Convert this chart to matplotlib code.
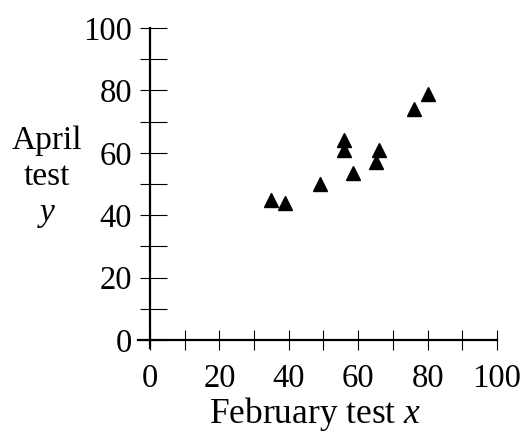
import matplotlib
matplotlib.use("Agg")
import matplotlib.pyplot as plt
from matplotlib.ticker import MultipleLocator, FuncFormatter

# scores
february = [35, 39, 49, 56, 56, 58.5, 65, 66, 76, 80]
april = [45, 44, 50, 64, 61, 53.5, 57, 61, 74, 79]

plt.rcParams['font.family'] = 'Liberation Serif'
plt.rcParams['mathtext.fontset'] = 'custom'
plt.rcParams['mathtext.rm'] = 'Liberation Serif'
plt.rcParams['mathtext.it'] = 'Liberation Serif:italic'

fig = plt.figure(figsize=(5.27, 4.34), dpi=100)
ax = fig.add_axes([0.2846, 0.2166, 0.6584, 0.7189])

ax.plot(february, april, linestyle='none', marker='^', markersize=9.5,
        color='black', clip_on=False)

ax.set_xlim(0, 100)
ax.set_ylim(0, 100)

for side in ['top', 'right']:
    ax.spines[side].set_visible(False)
ax.spines['left'].set_linewidth(1.6)
ax.spines['bottom'].set_linewidth(1.6)
ax.spines['left'].set_bounds(-2.5, 100)
ax.spines['bottom'].set_bounds(-3.5, 100)

def every_20(v, pos):
    return '%d' % v if round(v) % 20 == 0 else ''

ax.xaxis.set_major_locator(MultipleLocator(10))
ax.xaxis.set_major_formatter(FuncFormatter(every_20))
ax.tick_params(axis='x', which='major', direction='inout', length=14,
               width=0.8, pad=10, labelsize=23.5)

# y ticks stick out further to the right than to the left
ax.yaxis.set_major_locator(MultipleLocator(10))
ax.yaxis.set_minor_locator(MultipleLocator(10))
ax.yaxis.remove_overlapping_locs = False
ax.yaxis.set_major_formatter(FuncFormatter(every_20))
ax.tick_params(axis='y', which='major', direction='in', length=12,
               width=0.8, pad=13, labelsize=23.5)
ax.tick_params(axis='y', which='minor', direction='out', length=7,
               width=0.8)

ax.set_xlabel('February test $x$', fontsize=25.5)
ax.xaxis.set_label_coords(0.475, -0.175)
ax.set_ylabel('April\ntest\n$y$', fontsize=24, rotation=0,
              ha='center', va='center', linespacing=1.25)
ax.yaxis.set_label_coords(-0.297, 0.52)

fig.savefig('out.png', dpi=100)
